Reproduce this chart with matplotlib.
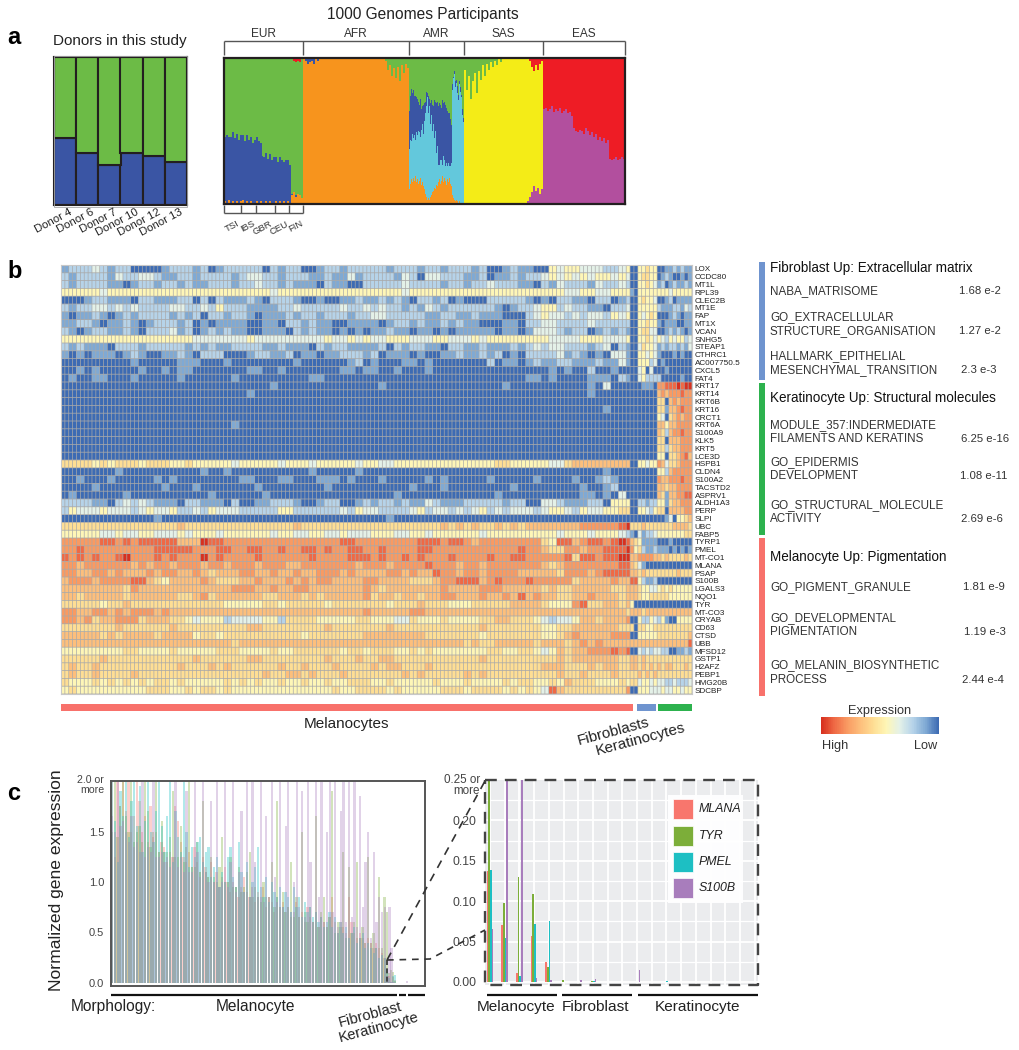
import numpy as np
import matplotlib
matplotlib.use('Agg')
import matplotlib.pyplot as plt
from matplotlib.colors import LinearSegmentedColormap
from matplotlib.patches import Rectangle

plt.rcParams['font.family'] = ['Liberation Sans', 'DejaVu Sans']

# ---------- panel a data ----------
donors = ['Donor 4', 'Donor 6', 'Donor 7', 'Donor 10', 'Donor 12', 'Donor 13']
donor_blue = [0.456, 0.354, 0.272, 0.354, 0.333, 0.292]

populations = ['EUR', 'AFR', 'AMR', 'SAS', 'EAS']
eur_subpops = ['TSI', 'IBS', 'GBR', 'CEU', 'FIN']

eur_other = [.02,.01,.03,.01,.02,.01,.02,.01,.02,.03,.01,.02,.01,.02,.01,.01,.02,.01,.02,.01,
             .01,.02,.01,.02,.01,.01,.02,.01,.02,.01,.02,.01,.02,.01,.06,.08,.05,.07,.06,.04]
eur_blue = [.44,.46,.43,.45,.47,.44,.46,.43,.45,.44,.42,.45,.43,.44,.41,.43,.44,.42,.40,.32,
            .31,.33,.30,.32,.29,.31,.30,.28,.30,.29,.27,.29,.28,.26,.01,.0,.01,.0,.0,.0]
eur_top = [0,0,0,0,0,0,0,0,0,0,0,0,0,0,0,0,0,0,0,0,
           0,0,0,0,0,0,0,0,0,0,0,0,0,.01,.01,.02,.03,.02,.03,.01]

afr_blue = [0,.02,.04,.03,.02,.04,.01,.02,.01,.01] + [0] * 43
afr_green = [0] * 41 + [.02,.08,.05,.12,.07,.14,.06,.16,.05,.10,.04,.07]

amr_orange = [.10,.14,.17,.15,.18,.16,.19,.15,.17,.14,.16,.18,.13,.15,.12,.10,.07,.05,.03,.04,.03,.05,.06,.08,.09,.11,.10,
              .13,.12,.15,.17,.14,.16,.19,.15,.18,.16,.13,.17,.15,.18,.14,.12,.06,.04,.03,.02,.03,.02,.01,.02,.01,.01,.01,.01]
amr_cyan = [.28,.30,.26,.33,.27,.31,.25,.34,.30,.36,.33,.28,.38,.40,.36,.47,.55,.62,.70,.58,.64,.50,.55,.42,.46,.34,.40,
            .22,.28,.12,.10,.16,.14,.08,.18,.12,.10,.15,.09,.13,.08,.12,.16,.72,.82,.86,.78,.80,.74,.70,.80,.76,.72,.60,.55]
amr_blue = [.26,.30,.36,.28,.33,.27,.30,.24,.25,.20,.19,.26,.14,.12,.20,.12,.08,.10,.03,.12,.05,.14,.10,.18,.12,.26,.20,
            .34,.30,.40,.42,.38,.36,.44,.36,.40,.42,.38,.38,.34,.36,.32,.26,.04,.01,.02,.04,.02,.05,.04,.02,.03,.02,.04,.03]

sas_purple = [0] * 32 + [.02,.05,.08,.12,.09,.11,.07,.10]
sas_green = [.08,.22,.12,.28,.16,.10,.24,.09,.15,.05,.12,.04,.08,.03,.06,.02,.05,.01,.03,.01] + [0] * 20
sas_red = [0] * 33 + [.02,.06,.09,.05,.08,.04,.02]

eas_purple = [.65,.66,.64,.65,.67,.63,.65,.64,.66,.62,.64,.65,.62,.63,.60,.52,.50,.49,.51,.50,.48,
              .52,.50,.47,.49,.46,.48,.44,.46,.43,.45,.42,.44,.31,.30,.31,.32,.30,.31,.32,.31]

# ---------- panel b data ----------
genes = ['LOX', 'CCDC80', 'MT1L', 'RPL39', 'CLEC2B', 'MT1E', 'FAP', 'MT1X', 'VCAN', 'SNHG5', 'STEAP1', 'CTHRC1',
         'AC007750.5', 'CXCL5', 'FAT4', 'KRT17', 'KRT14', 'KRT6B', 'KRT16', 'CRCT1', 'KRT6A', 'S100A9', 'KLK5',
         'KRT5', 'LCE3D', 'HSPB1', 'CLDN4', 'S100A2', 'TACSTD2', 'ASPRV1', 'ALDH1A3', 'PERP', 'SLPI', 'UBC', 'FABP5',
         'TYRP1', 'PMEL', 'MT-CO1', 'MLANA', 'PSAP', 'S100B', 'LGALS3', 'NQO1', 'TYR', 'MT-CO3', 'CRYAB', 'CD63',
         'CTSD', 'UBB', 'MFSD12', 'GSTP1', 'H2AFZ', 'PEBP1', 'HMG20B', 'SDCBP']

# One digit per cell block (0 = high ... 9 = low): melanocytes in blocks of two cells | then single cells
heat_rows = [
 '8777678779 9998777879 8777779787 7998778777 7787778778 7778799878 8995655666 7765|99 55455 998878788',
 '7877778677 6678877877 7787667787 7788788687 7778679667 7788798878 7765656565 5656|99 54455 987899898',
 '7877778898 7787787887 7787767787 8889788997 7777677778 7787767778 8978677786 7767|99 55456 879878878',
 '5555565555 5555555555 5555555655 5555555555 5555655555 5555555555 5555566556 6555|89 55555 555655555',
 '9998778889 7788877979 7888789777 8998998878 8787897787 9899977777 8989778897 7987|99 54556 998798888',
 '7877667676 7777667767 5777888877 6777776776 7677878678 7777778987 7655767788 9776|99 55555 788877867',
 '8988789878 7777878797 7877898887 8778777877 6677777887 7887888999 7656676766 7565|99 56545 999878988',
 '8877898878 9877787989 8888998897 7878899888 8987787887 8788999889 7766777767 7777|99 55455 898889988',
 '7898778878 9777687987 8788998889 7878898989 8878898898 9888889889 8666787798 7878|99 54466 998787898',
 '5555555555 5555555666 6666566666 6666566565 6655566655 6665655555 5556666555 6665|99 55456 567565576',
 '7878889777 8777778787 8877778878 8897877888 8797877889 7788788878 7676677787 6978|99 64556 878778786',
 '8989888987 8998878977 7999877887 9889887778 7988898998 8788787989 7777687898 9668|99 55656 899989899',
 '9999999998 9999988899 9899999999 8999999879 8999889899 9999979889 8788778887 8868|99 55576 989999999',
 '9989899999 8998988999 9999889989 9999998898 8998999899 9999999999 9998989979 9899|99 65969 998999999',
 '9899889998 9999989999 9989999999 9988999999 9999999999 9999999999 8898999988 8978|99 65777 799999899',
 '9999999999 9999999999 9999999899 9999999999 9899999999 9999999899 9999999989 6999|99 98889 221110100',
 '9999999999 9999999999 9999899999 9999999999 9999999999 9999999999 9999999989 9999|99 99999 323222122',
 '9999999999 9999999999 9999999999 9999999999 9999999999 9999999999 9999999999 9999|99 99999 449323222',
 '9999999999 9999999999 9999999999 9999999999 9999999999 9999999999 9999999999 8999|99 99999 448332122',
 '9999999999 9999999999 9999999999 9999999999 9999999999 9999999999 9999999999 9999|99 99999 569432322',
 '9999999999 9999999999 9989999999 9999999999 9999999999 9999999999 9999999999 9999|99 99999 335332222',
 '9999999999 9999999999 9999999999 9999999999 9999999999 9999999999 9999999999 9999|99 99999 347322122',
 '9999999999 9999999999 9999999999 9999999999 9999999999 9999999999 9999999999 9999|99 99999 449333222',
 '9999999999 9999999999 9999999999 9999999999 9999999999 9999999999 9999999999 9999|99 99999 447433222',
 '9999999999 9999999999 9999999999 9999999999 9999999999 9999999999 9999999999 9999|99 99999 559443213',
 '4444545444 5444554555 5565555565 5565555565 5665555555 5555554455 5556643333 3333|99 55655 236443222',
 '9999999899 9999999989 9899999999 9989999989 9999999999 9999999999 9999999999 8999|99 99999 557322222',
 '9989998999 9989899999 9998899988 9998889899 9899999898 9999989999 9899998998 7899|99 99999 233222122',
 '9999899999 9998999899 9999989999 9999899999 9999989998 9999999989 9999999899 8799|99 99999 334332222',
 '9899999989 9999999998 9999998999 9999999999 9998999999 9999998999 9999999889 8969|99 99999 348332211',
 '7777889767 6788897788 8979988777 8998779987 8778788678 8877777877 9966788877 9555|99 77877 558433222',
 '7566656667 6566577675 6667777755 7777776756 6777765766 7676576766 6765567566 5544|99 55675 449333322',
 '9999999999 9989999999 9999999999 9999999999 9989999999 9999999999 9999999999 9999|99 99999 998695543',
 '4444444444 4444434444 4444444444 3444444444 4444444443 4343443434 3333333222 2210|44 43444 444433334',
 '5555566566 5566656555 6555555655 6655665666 5556655655 5555655555 5555655565 5567|89 68776 555555544',
 '2222211212 1111133301 1222222222 2222221122 2222221112 1123222222 2245113211 2101|34 58888 999899999',
 '2212222222 2211111222 1122112212 2112122112 2122221122 2222222221 2234422322 1110|25 47887 888989898',
 '1212122102 2212122202 1222212222 2212222111 2122121222 1222212211 2222214112 1100|33 22223 343444434',
 '2232222223 2322322232 2322232223 3222222232 2232222122 2322322222 2234322222 2211|34 68999 999999999',
 '2233223233 3232233234 3332233233 2332223233 3322323312 2322322223 3333422232 1111|33 43444 444443444',
 '3222322221 1345333323 4443323332 3232233332 2333344432 2111321222 1222224333 3233|11 57887 999999999',
 '3333333342 3333333333 3322233233 2233333332 3433333332 3333222333 3343443333 3443|33 45566 545455555',
 '3343333343 3333344324 3333334433 3434333332 4334334332 2333233231 3233443323 3343|33 45544 444555555',
 '4444454434 4444444444 4555554454 4444544444 4454443444 5554444433 3345552144 3343|59 99999 999999999',
 '2233223232 2232333333 3333333333 3333333332 3333322333 3333333333 3333333333 3334|33 34333 333333333',
 '2232433222 4333445655 5766665574 4445555544 5556645554 5555443344 4567665334 3332|99 57756 758995555',
 '4444444344 4444344444 4444334444 4444344444 4434444444 4444344444 4455443333 3344|49 44554 444444444',
 '3333343433 3343333544 5444444444 4544444443 3333333444 4444544444 4455432333 3222|99 55555 444444443',
 '3333333333 3333333333 3343333333 3333333333 3333333333 3343443333 3433343232 3333|33 33333 333333331',
 '5555555544 5555455555 4445555455 4444445445 4445545455 5555544554 4565343322 2121|99 67676 677998878',
 '4444434444 4444444344 4444334444 4444344434 4334444444 4444344444 4444343333 3344|33 43444 444444444',
 '4344344444 4444434443 4344444434 4344434444 3433444344 4444444444 4433344434 3344|33 43434 343344434',
 '4344344443 4444444444 4444443443 3434443444 4444343444 4434344444 4444344344 4344|44 34343 444444444',
 '4555454545 4544545555 5454545545 5455455444 5545555545 5545555454 4554534445 5545|44 65565 667767776',
 '5455555555 5444554544 5455555555 5555545544 4454555554 4454444545 4561344444 4442|99 55566 656655655',
]

# ---------- panel c data (hundredths of normalized expression) ----------
series_names = ['MLANA', 'TYR', 'PMEL', 'S100B']
series_colors = ['#F8766D', '#7CAE39', '#1DBFC3', '#A87DBC']
mlana = [200,125,200,175,200,170,200,150,165,200,180,150,165,140,175,145,150,130,140,135,
         120,130,125,175,160,140,125,120,130,115,135,120,110,125,115,105,120,100,110,95,
         105,115,100,90,100,95,85,95,105,90,85,95,80,90,85,95,75,85,80,70,
         85,75,80,70,75,65,70,80,65,70,60,75,65,60,70,55,65,60,55,65,
         85,60,50,60,55,50,85,60,50,45,50,45,40,45,40,35,40,35,30,25]
tyr = [150,200,145,175,200,165,150,200,140,150,155,140,200,170,135,150,200,130,160,130,
       130,145,190,125,125,155,120,135,200,115,115,140,110,180,110,105,125,105,100,115,
       145,100,100,125,95,95,115,90,95,110,130,85,95,85,80,100,85,85,120,75,
       180,75,90,70,75,120,65,85,65,150,70,60,75,60,165,55,70,85,55,65,
       190,50,60,55,130,45,115,50,60,120,45,55,40,125,40,50,35,105,35,85]
pmel = [200,160,120,190,165,200,145,180,200,155,195,130,160,200,150,140,170,200,155,130,
        165,200,120,170,145,130,200,150,115,135,125,140,145,120,130,135,105,115,125,95,
        110,100,125,135,105,95,140,110,90,120,85,100,115,135,95,85,105,80,100,90,
        85,95,75,90,85,70,95,75,85,65,80,70,75,65,70,60,65,55,60,70,
        55,65,50,60,50,55,45,50,55,40,45,50,35,40,35,30,35,25,28,25]
s100b = [165,150,200,155,160,150,140,165,135,140,130,200,125,135,130,200,125,125,130,120,
         125,115,125,200,115,125,110,190,110,110,200,130,105,200,110,100,180,100,200,95,
         100,200,95,120,200,90,110,170,90,200,85,200,120,85,200,80,165,85,200,105,
         80,200,75,155,200,70,100,200,75,190,65,200,120,60,200,85,200,60,150,200,
         70,200,55,170,200,60,200,65,200,55,185,75,120,150,45,130,60,85,70,75]

# last 19 cells, shown magnified on the right
tail_mlana = [.137, .071, .011, .057, .025, 0, 0, 0, 0, 0, 0, 0, 0, 0, 0, 0, 0, 0, 0]
tail_tyr = [.70, .098, .130, .109, .019, .003, 0, .001, 0, 0, 0, 0, 0, 0, 0, 0, 0, 0, 0]
tail_pmel = [.138, .054, .008, .072, .076, 0, 0, .001, 0, 0, 0, 0, .001, 0, 0, 0, 0, 0, 0]
tail_s100b = [.065, .75, .35, .005, .002, 0, .003, .004, 0, 0, .015, 0, 0, 0, 0, 0, 0, 0, 0]

# ---------- layout helpers ----------
W, H = 1020, 1050
fig = plt.figure(figsize=(W / 100, H / 100), dpi=100, facecolor='white')


def axpx(x0, y0, x1, y1, **kw):
    return fig.add_axes([x0 / W, 1 - y1 / H, (x1 - x0) / W, (y1 - y0) / H], **kw)


ov = fig.add_axes([0, 0, 1, 1], zorder=10)
ov.set_xlim(0, W)
ov.set_ylim(H, 0)
ov.axis('off')
ov.patch.set_alpha(0)


def T(x, y, s, size=8, ha='left', va='center', color='#222222', **kw):
    ov.text(x, y, s, fontsize=size, ha=ha, va=va, color=color, **kw)


def L(xs, ys, color='#555555', lw=1.0, **kw):
    ov.plot(xs, ys, color=color, lw=lw, solid_capstyle='butt', **kw)


for s, y in (('a', 38), ('b', 271), ('c', 793)):
    T(7, y, s, size=17, weight='bold', color='black')

# ---------- panel a ----------
GREEN, BLUE, ORANGE, CYAN = '#6CBB46', '#3A55A4', '#F7941D', '#63C8DC'
YELLOW, RED, PURPLE = '#F4EC17', '#EE1C25', '#B24F9E'

ax = axpx(54, 57, 187, 205)
pos = np.arange(len(donors))
b = np.array(donor_blue)
ax.bar(pos, b, width=1, color=BLUE, edgecolor='#231F20', linewidth=1.5)
ax.bar(pos, 1 - b, bottom=b, width=1, color=GREEN, edgecolor='#231F20', linewidth=1.5)
ax.set_xlim(-.5, 5.5)
ax.set_ylim(0, 1)
ax.set_xticks([])
ax.set_yticks([])
for sp in ax.spines.values():
    sp.set_color('#231F20')
    sp.set_linewidth(1.5)
ov.add_patch(Rectangle((54, 55.5), 133, 151.5, fill=False, ec='#aaaaaa', lw=.6))
for p, name in zip(pos, donors):
    T(54 + 133 * (p + .5) / 6 + 4, 207, name, size=8.2, ha='right', va='top', rotation=28, rotation_mode='anchor')
T(120, 41, 'Donors in this study', size=11, ha='center')

ax = axpx(224, 58, 625, 204)
edges = [224, 303, 409, 464, 543, 625]


def stack(x0, x1, comps):
    n = len(comps[0][0])
    step = (x1 - x0) / n
    xs = x0 + step * (np.arange(n) + .5)
    bottom = np.zeros(n)
    for vals, col in comps:
        vals = np.array(vals, float)
        ax.bar(xs, vals, width=step * 1.02, bottom=bottom, color=col, linewidth=0, antialiased=False)
        bottom += vals
    return xs, bottom


stack(224, 303, [(eur_other, ORANGE), (eur_blue, BLUE),
                 (1 - np.array(eur_other) - np.array(eur_blue) - np.array(eur_top), GREEN), (eur_top, RED)])
stack(303, 409, [(1 - np.array(afr_blue) - np.array(afr_green), ORANGE), (afr_green, GREEN), (afr_blue, BLUE)])
stack(409, 464, [(amr_orange, ORANGE), (amr_cyan, CYAN), (amr_blue, BLUE),
                 (1 - np.array(amr_orange) - np.array(amr_cyan) - np.array(amr_blue), GREEN)])
stack(464, 543, [(sas_purple, PURPLE),
                 (1 - np.array(sas_purple) - np.array(sas_green) - np.array(sas_red), YELLOW),
                 (sas_green, GREEN), (sas_red, RED)])
stack(543, 625, [(eas_purple, PURPLE), (1 - np.array(eas_purple), RED)])
ax.set_xlim(224, 625)
ax.set_ylim(0, 1)
ax.set_xticks([])
ax.set_yticks([])
for sp in ax.spines.values():
    sp.set_color('#231F20')
    sp.set_linewidth(1.6)

T(423, 15, '1000 Genomes Participants', size=11.2, ha='center')
L([224, 625], [41, 41])
for e in edges:
    L([e, e], [41, 55])
for i, name in enumerate(populations):
    T((edges[i] + edges[i + 1]) / 2, 34, name, size=8.6, ha='center', color='#333333')
sub_edges = [224, 241, 256, 275, 289, 303]
L([224, 303], [213, 213])
for e in sub_edges:
    L([e, e], [205, 213])
for i, name in enumerate(eur_subpops):
    T((sub_edges[i] + sub_edges[i + 1]) / 2 + 4, 219, name, size=6.8, ha='right', va='top', rotation=28,
      rotation_mode='anchor', color='#333333')

# ---------- panel b ----------
heat_nodes = ['#D7301F', '#EF6A45', '#F99B63', '#FDBF7C', '#FEDE94', '#FEF6B6', '#E4F1E8', '#B7D4E9', '#80AAD4', '#3D6BB3']
heat_cmap = LinearSegmentedColormap.from_list('heat', heat_nodes)
Z = []
for row in heat_rows:
    m, rest = row.replace(' ', '').split('|')
    m = (m + m[-1] * 74)[:74]
    Z.append(np.r_[np.repeat([int(c) for c in m], 2)[:147], [int(c) for c in rest]])
Z = np.array(Z, float)
ax = axpx(61, 265, 692, 694)
ax.pcolormesh(Z, cmap=heat_cmap, vmin=0, vmax=9, linewidth=0, antialiased=False)
ax.set_ylim(len(genes), 0)
gv = ax.vlines(np.arange(Z.shape[1] + 1), 0, len(genes), color='#A9A9A9', lw=.5)
gh = ax.hlines(np.arange(len(genes) + 1), 0, Z.shape[1], color='#A9A9A9', lw=.55)
gv.set_snap(False)
gh.set_snap(False)
ax.set_xlim(0, Z.shape[1])
ax.set_xticks([])
ax.set_yticks(np.arange(len(genes)) + .5, genes)
ax.yaxis.tick_right()
ax.tick_params(axis='y', length=0, pad=2, labelsize=5.9, labelcolor='#222222')
for sp in ax.spines.values():
    sp.set_color('#C8C8C8')
    sp.set_linewidth(.8)

C_MEL, C_FIB, C_KER = '#F8716B', '#6F94CF', '#2DB24E'
for x0, x1, c in ((61, 633, C_MEL), (637, 656, C_FIB), (658, 692, C_KER)):
    ov.add_patch(Rectangle((x0, 704), x1 - x0, 7, fc=c, ec='none'))
T(347, 724, 'Melanocytes', size=11, ha='center')
T(613, 732, 'Fibroblasts', size=11, ha='center', rotation=15)
T(640, 739, 'Keratinocytes', size=11, ha='center', rotation=15)

for y0, y1, c in ((262, 380, C_FIB), (383, 535, C_KER), (538, 696, C_MEL)):
    ov.add_patch(Rectangle((759, y0), 6, y1 - y0, fc=c, ec='none'))

titles = [('Fibroblast Up: Extracellular matrix', 268), ('Keratinocyte Up: Structural molecules', 398),
          ('Melanocyte Up: Pigmentation', 557)]
for s, y in titles:
    T(770, y, s, size=9.75, color='#111111')
terms = [('NABA_MATRISOME', 291), ('GO_EXTRACELLULAR', 317), ('STRUCTURE_ORGANISATION', 331),
         ('HALLMARK_EPITHELIAL', 356), ('MESENCHYMAL_TRANSITION', 370), ('MODULE_357:INDERMEDIATE', 425),
         ('FILAMENTS AND KERATINS', 439), ('GO_EPIDERMIS', 462), ('DEVELOPMENT', 476), ('GO_STRUCTURAL_MOLECULE', 505),
         ('ACTIVITY', 519), ('GO_PIGMENT_GRANULE', 587), ('GO_DEVELOPMENTAL', 618), ('PIGMENTATION', 632),
         ('GO_MELANIN_BIOSYNTHETIC', 665), ('PROCESS', 680)]
for s, y in terms:
    T(770, y, s, size=8.4, color='#333333')
pvals = [('1.68 e-2', 959, 291), ('1.27 e-2', 959, 331), ('2.3 e-3', 961, 370), ('6.25 e-16', 961, 439),
         ('1.08 e-11', 960, 476), ('2.69 e-6', 961, 519), ('1.81 e-9', 963, 587), ('1.19 e-3', 964, 632),
         ('2.44 e-4', 962, 680)]
for s, x, y in pvals:
    T(x, y, s, size=8.2, color='#333333')

T(880, 711, 'Expression', size=9.2, ha='center', color='#333333')
T(835, 746, 'High', size=9.2, ha='center', color='#333333')
T(926, 746, 'Low', size=9.2, ha='center', color='#333333')
ax = axpx(821, 717, 939, 734)
ax.pcolormesh(np.array([np.arange(0, 9.01, .05)]), cmap=heat_cmap, vmin=0, vmax=9)
ax.axis('off')

# ---------- panel c, left ----------
ax = axpx(111, 781, 425, 986)
main = [mlana, tyr, pmel, s100b]
tails = [tail_mlana, tail_tyr, tail_pmel, tail_s100b]
n_main = len(mlana)
xs = np.r_[np.arange(n_main), n_main + np.arange(19) * .72]
for k, (m, t, c) in enumerate(zip(main, tails, series_colors)):
    v = np.r_[np.array(m) / 100, t]
    ax.bar(xs + (k - 1.5) * .03, v, width=.8, color=c, alpha=.34, linewidth=0)
ax.set_xlim(-.4, n_main + 19 * .72 + .0)
ax.set_ylim(-3 / 101, 2.0)
ax.set_xticks([])
ax.set_yticks([0, .5, 1, 1.5], ['0.0', '0.5', '1.0', '1.5'])
ax.tick_params(axis='y', length=0, pad=5, labelsize=8, labelcolor='#444444')
for sp in ax.spines.values():
    sp.set_color('#555555')
    sp.set_linewidth(1.4)
T(104, 785, '2.0 or\nmore', size=7.6, ha='right', color='#444444', linespacing=1.05)
T(57, 880, 'Normalized gene expression', size=12.6, ha='center', rotation=90)
L([111, 397], [995, 995], color='#111111', lw=1.6)
L([399, 406], [995, 995], color='#111111', lw=1.6)
L([408, 425], [995, 995], color='#111111', lw=1.6)
T(71, 1007, 'Morphology:', size=11.2)
T(256, 1007, 'Melanocyte', size=11.2, ha='center')
T(370, 1015, 'Fibroblast', size=10.6, ha='center', rotation=15)
T(379, 1028, 'Keratinocyte', size=10.6, ha='center', rotation=15)

# ---------- panel c, right ----------
ax = axpx(485, 780, 758, 985)
ax.set_facecolor('#EBECEE')
cells = np.arange(19)
for k, (t, c) in enumerate(zip(tails, series_colors)):
    ax.bar(cells + (k - 1.5) * .115, t, width=.115, color=c, linewidth=0, zorder=3)
ax.set_xlim(-.34, 18.23)
ax.set_ylim(-3 / 808, .25)
ax.set_xticks(cells, [''] * 19)
ax.set_yticks([0, .05, .1, .15, .2], ['0.00', '0.05', '0.10', '0.15', '0.20'])
ax.set_yticks(np.arange(.025, .25, .05), minor=True)
ax.grid(True, which='major', color='white', lw=1.3, zorder=0)
ax.grid(True, which='minor', axis='y', color='white', lw=.9, zorder=0)
ax.set_axisbelow(True)
ax.tick_params(axis='both', which='both', length=0)
ax.tick_params(axis='y', pad=6, labelsize=8.8, labelcolor='#444444')
for sp in ax.spines.values():
    sp.set_visible(False)
dash = (0, (5, 3.4))
L([485, 758, 758, 485, 485], [780, 780, 985, 985, 780], color='#444444', lw=1.7, linestyle=dash)
T(480, 785.5, '0.25 or\nmore', size=8.4, ha='right', color='#444444', linespacing=.95)

ov.add_patch(Rectangle((668, 795), 75, 108, fc='white', ec='none', alpha=.95))
for (y, name, c) in zip((799, 826, 852, 878), series_names, series_colors):
    ov.add_patch(Rectangle((673, y), 20, 20, fc=c, ec='white', lw=.5))
    T(699, y + 10, name, size=8.9, style='italic', color='#222222')

for x0, x1 in ((487, 557), (562, 632), (638, 758)):
    L([x0, x1], [995, 995], color='#111111', lw=1.6)
T(516, 1007, 'Melanocyte', size=11.1, ha='center')
T(596, 1007, 'Fibroblast', size=11.1, ha='center')
T(698, 1007, 'Keratinocyte', size=11.1, ha='center')

# zoom guide lines
L([387, 485], [960, 781], color='#333333', lw=1.2, linestyle=(0, (5, 4)))
L([387, 430, 485], [960, 959, 930], color='#333333', lw=1.2, linestyle=(0, (4, 3.5)))
L([387, 387], [960, 985], color='#333333', lw=1.2, linestyle=(0, (3, 2)))

fig.savefig('out.png', dpi=100, facecolor='white')
